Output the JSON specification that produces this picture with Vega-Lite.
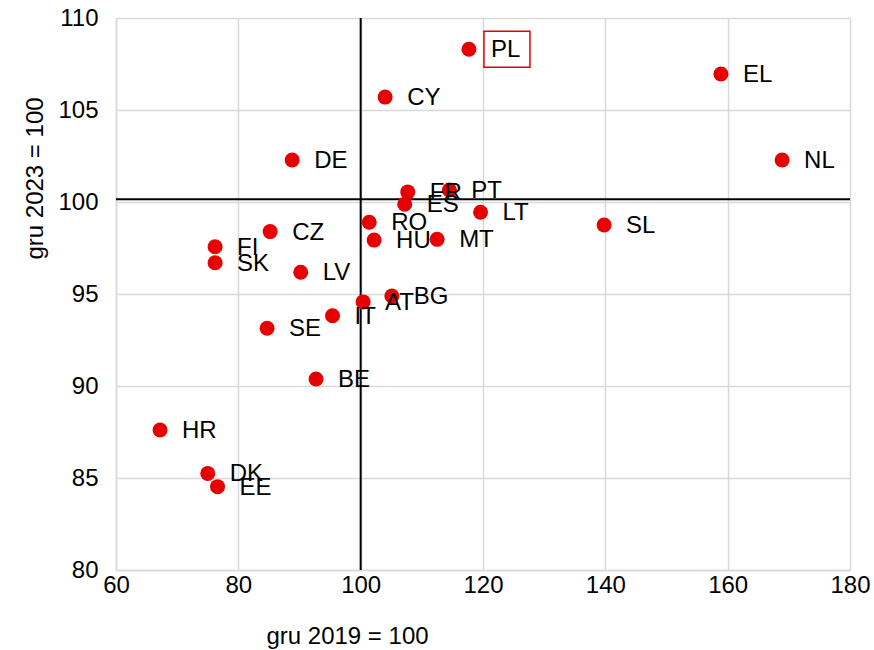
{
  "$schema": "https://vega.github.io/schema/vega-lite/v6.json",
  "width": 734,
  "height": 552,
  "autosize": {"type": "none"},
  "padding": {"left": 116, "top": 18, "right": 24, "bottom": 80},
  "background": "white",
  "config": {
    "font": "Liberation Sans",
    "view": {"stroke": null},
    "axis": {"labelFont": "Liberation Sans", "titleFont": "Liberation Sans", "labelColor": "#000000", "titleColor": "#000000", "titleFontWeight": "normal", "labelFlush": false, "labelOverlap": false}
  },
  "datasets": {
    "pts": [
      {"kraj": "PL", "x": 117.7, "y": 108.3},
      {"kraj": "EL", "x": 158.9, "y": 106.96},
      {"kraj": "NL", "x": 168.9, "y": 102.28},
      {"kraj": "CY", "x": 104.0, "y": 105.7},
      {"kraj": "DE", "x": 88.8, "y": 102.28},
      {"kraj": "FR", "x": 107.7, "y": 100.55},
      {"kraj": "PT", "x": 114.5, "y": 100.65},
      {"kraj": "ES", "x": 107.2, "y": 99.88},
      {"kraj": "LT", "x": 119.6, "y": 99.44},
      {"kraj": "SL", "x": 139.8, "y": 98.75},
      {"kraj": "RO", "x": 101.4, "y": 98.9},
      {"kraj": "HU", "x": 102.2, "y": 97.93},
      {"kraj": "MT", "x": 112.5, "y": 97.97},
      {"kraj": "CZ", "x": 85.2, "y": 98.39},
      {"kraj": "FI", "x": 76.2, "y": 97.57},
      {"kraj": "SK", "x": 76.2, "y": 96.7},
      {"kraj": "LV", "x": 90.2, "y": 96.18},
      {"kraj": "BG", "x": 105.1, "y": 94.89},
      {"kraj": "AT", "x": 100.4, "y": 94.57},
      {"kraj": "IT", "x": 95.4, "y": 93.82},
      {"kraj": "SE", "x": 84.7, "y": 93.14},
      {"kraj": "BE", "x": 92.7, "y": 90.38},
      {"kraj": "HR", "x": 67.2, "y": 87.61},
      {"kraj": "DK", "x": 75.0, "y": 85.25},
      {"kraj": "EE", "x": 76.6, "y": 84.53}
    ],
    "vline": [{"x": 100}],
    "hline": [{"y": 100.15}]
  },
  "layer": [
    {
      "data": {"name": "pts"},
      "mark": {"type": "point", "opacity": 0},
      "encoding": {
        "x": {"field": "x", "type": "quantitative", "scale": {"domain": [60, 180], "nice": false, "zero": false},
          "axis": {"values": [60, 80, 100, 120, 140, 160, 180], "title": "gru 2019 = 100", "grid": true, "gridColor": "#d9d9d9", "gridWidth": 1.5, "domainColor": "#d9d9d9", "domainWidth": 1.5, "ticks": false, "labelFontSize": 24, "labelPadding": 3, "titleFontSize": 24, "titleX": 231, "titleY": 66, "titleBaseline": "middle", "titleAlign": "center"}},
        "y": {"field": "y", "type": "quantitative", "scale": {"domain": [80, 110], "nice": false, "zero": false},
          "axis": {"values": [80, 85, 90, 95, 100, 105, 110], "title": "gru 2023 = 100", "grid": true, "gridColor": "#d9d9d9", "gridWidth": 1.5, "domainColor": "#d9d9d9", "domainWidth": 1.5, "ticks": false, "labelFontSize": 24, "labelPadding": 18, "titleFontSize": 24, "titleX": -81, "titleY": 160, "titleAngle": -90, "titleBaseline": "middle", "titleAlign": "center"}}
      }
    },
    {
      "data": {"name": "vline"},
      "mark": {"type": "rule", "color": "#000000", "strokeWidth": 2},
      "encoding": {"x": {"field": "x", "type": "quantitative"}}
    },
    {
      "data": {"name": "hline"},
      "mark": {"type": "rule", "color": "#000000", "strokeWidth": 2},
      "encoding": {"y": {"field": "y", "type": "quantitative"}}
    },
    {
      "data": {"name": "pts"},
      "mark": {"type": "circle", "color": "#e60000", "opacity": 1, "size": 225},
      "encoding": {
        "x": {"field": "x", "type": "quantitative"},
        "y": {"field": "y", "type": "quantitative"}
      }
    },
    {
      "data": {"name": "pts"},
      "mark": {"type": "text", "align": "left", "baseline": "middle", "dx": 22, "dy": 1, "fontSize": 24, "color": "#000000"},
      "encoding": {
        "x": {"field": "x", "type": "quantitative"},
        "y": {"field": "y", "type": "quantitative"},
        "text": {"field": "kraj"}
      }
    },
    {
      "data": {"name": "pts"},
      "transform": [{"filter": "datum.kraj === 'PL'"}],
      "mark": {"type": "point", "shape": "M-1,-0.78H1V0.78H-1Z", "size": 2116, "filled": false, "stroke": "#e60000", "strokeWidth": 1.5, "opacity": 1, "xOffset": 38},
      "encoding": {
        "x": {"field": "x", "type": "quantitative"},
        "y": {"field": "y", "type": "quantitative"}
      }
    }
  ]
}
